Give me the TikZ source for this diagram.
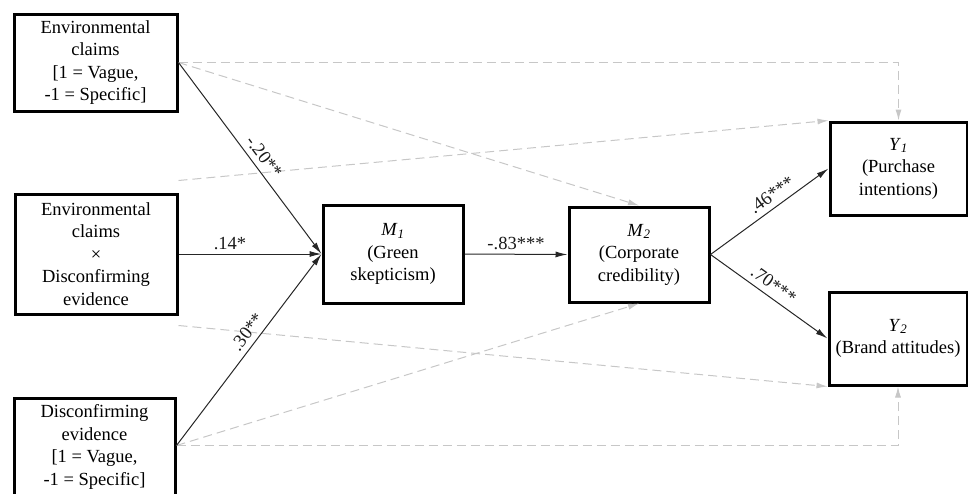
\documentclass[tikz,border=0pt]{standalone}
\usepackage{fontspec}
\setmainfont{Liberation Serif}
\usetikzlibrary{arrows.meta}
\begin{document}
\begin{tikzpicture}[x=1pt,y=-1pt,
  box/.style={draw, line width=3pt, align=center, inner sep=0pt, font=\fontsize{18.5}{22.5}\selectfont},
  sarr/.style={-{Latex[length=12pt,width=6pt]}, line width=1pt, black!85},
  darr/.style={-{Latex[length=11pt,width=6pt]}, line width=1pt, black!22, dash pattern=on 9pt off 5pt},
  lab/.style={font=\fontsize{18.5}{22.5}\selectfont, inner sep=1pt, text=black!90}]
\useasboundingbox (0,0) rectangle (968,493);
\node[box, minimum width=163pt, minimum height=97pt] (A) at (95.5,62.5)
  {Environmental\\claims\\{}[1 = Vague,\\-1 = Specific]};
\node[box, minimum width=162pt, minimum height=120pt] (B) at (96,254)
  {Environmental\\claims\\×\\Disconfirming\\evidence};
\node[box, minimum width=161pt, minimum height=98pt] (C) at (94.5,447)
  {Disconfirming\\evidence\\{}[1 = Vague,\\-1 = Specific]};
\node[box, minimum width=140pt, minimum height=98pt] (M1) at (393,254)
  {\textit{M}\textsubscript{\textit{1}}\\(Green\\skepticism)};
\node[box, minimum width=140pt, minimum height=95pt] (M2) at (639,254.5)
  {\textit{M}\textsubscript{\textit{2}}\\(Corporate\\credibility)};
\node[box, minimum width=137pt, minimum height=93pt] (Y1) at (898.5,168.5)
  {\textit{Y}\textsubscript{\textit{1}}\\(Purchase\\intentions)};
\node[box, minimum width=138pt, minimum height=93pt] (Y2) at (898,338.5)
  {\textit{Y}\textsubscript{\textit{2}}\\(Brand attitudes)};
\coordinate (Bup) at ([yshift=12pt]B.north east);
\coordinate (Bdn) at ([yshift=-10pt]B.south east);
\coordinate (Cst) at ([yshift=1.5pt]C.east);
% dashed gray paths
\draw[darr] (A.east) -| (Y1.north);
\draw[darr] (A.east) -- (M2.north);
\draw[darr] (Bup) -- (Y1.north west);
\draw[darr] (Bdn) -- (Y2.south west);
\draw[darr] (Cst) -- (M2.south);
\draw[darr] (Cst) -| (Y2.south);
% solid paths
\draw[sarr] (A.east) -- node[lab, sloped, above=4.5pt, pos=0.53] {-.20**} (M1.west);
\draw[sarr] (B.east) -- node[lab, above=3pt, pos=0.36] {.14*} (M1.west);
\draw[sarr] (Cst) -- node[lab, sloped, above=4.5pt, pos=0.555] {.30**} (M1.west);
\draw[sarr] (M1.east) -- node[lab, above=3pt] {-.83***} (M2.west);
\draw[sarr] (M2.east) -- node[lab, sloped, above=4.5pt, pos=0.58] {.46***} (Y1.west);
\draw[sarr] (M2.east) -- node[lab, sloped, above=4.5pt, pos=0.48] {.70***} (Y2.west);
\end{tikzpicture}
\end{document}
